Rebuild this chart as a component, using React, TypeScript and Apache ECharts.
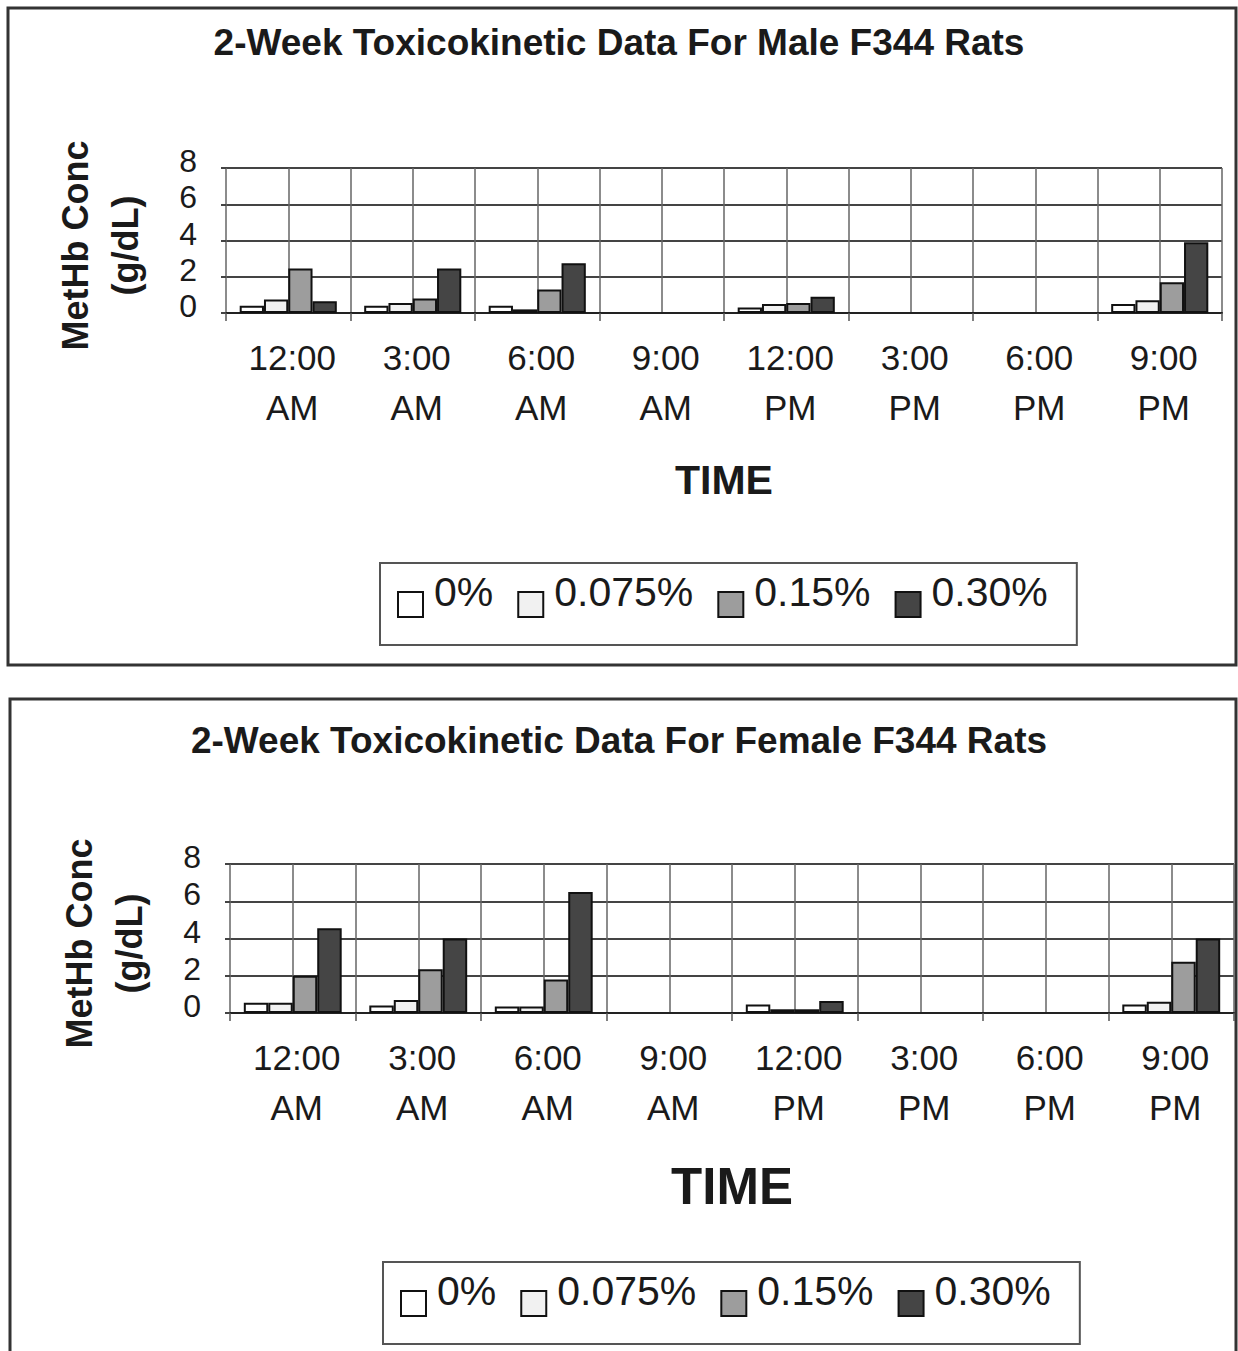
import React, { useEffect, useRef } from "react";
import * as echarts from "echarts";

const categories = ["12:00\nAM", "3:00\nAM", "6:00\nAM", "9:00\nAM", "12:00\nPM", "3:00\nPM", "6:00\nPM", "9:00\nPM"];
const seriesNames = ["0%", "0.075%", "0.15%", "0.30%"];
const yTicks = [0, 2, 4, 6, 8];

const male0 = [0.4, 0.4, 0.4, null, 0.3, null, null, 0.5];
const male075 = [0.75, 0.55, 0.2, null, 0.5, null, null, 0.7];
const male15 = [2.45, 0.8, 1.3, null, 0.55, null, null, 1.7];
const male30 = [0.65, 2.45, 2.75, null, 0.9, null, null, 3.9];

const female0 = [0.55, 0.4, 0.35, null, 0.45, null, null, 0.45];
const female075 = [0.55, 0.7, 0.35, null, 0.2, null, null, 0.6];
const female15 = [2.0, 2.35, 1.8, null, 0.2, null, null, 2.75];
const female30 = [4.55, 4.0, 6.5, null, 0.65, null, null, 4.0];

const titles = ["2-Week Toxicokinetic Data For Male F344 Rats", "2-Week Toxicokinetic Data For Female F344 Rats"];

const FONT = "'Liberation Sans', Arial, Helvetica, sans-serif";
const fills = ["#ffffff", "#f1f1f1", "#9d9d9d", "#454545"];

export default function App() {
  const ref = useRef<HTMLDivElement>(null);
  useEffect(() => {
    document.body.style.margin = "0";
    if (!ref.current) return;
    const chart = echarts.init(ref.current, undefined, { renderer: "svg" });

    const panels = [
      { grid: { left: 226, top: 168, width: 996, height: 145 }, titleTop: 19, timeFont: 41, timeGap: 146, legend: { left: 380, top: 563 }, data: [male0, male075, male15, male30] },
      { grid: { left: 230, top: 864, width: 1004, height: 149 }, titleTop: 717, timeFont: 51, timeGap: 148, legend: { left: 383, top: 1262 }, data: [female0, female075, female15, female30] },
    ];

    const grids: any[] = [];
    const xAxes: any[] = [];
    const yAxes: any[] = [];
    const series: any[] = [];
    const legends: any[] = [];
    const titleArr: any[] = [];

    panels.forEach((p, i) => {
      grids.push({ ...p.grid, containLabel: false });
      titleArr.push({
        text: titles[i],
        left: "center",
        top: p.titleTop,
        textStyle: { fontFamily: FONT, fontWeight: "bold", fontSize: 37, color: "#1a1a1a" },
      });
      xAxes.push({
        type: "category",
        gridIndex: i,
        data: categories,
        position: "bottom",
        boundaryGap: true,
        axisLine: { show: true, lineStyle: { color: "#222", width: 2 } },
        axisTick: { show: true, interval: 0, length: 8, lineStyle: { color: "#555", width: 1.5 } },
        axisLabel: { interval: 0, fontFamily: FONT, fontSize: 35, lineHeight: 50, color: "#1a1a1a", margin: 19, padding: [0, 0, 0, 8] },
        splitLine: { show: false },
        name: "TIME",
        nameLocation: "middle",
        nameGap: p.timeGap,
        nameTextStyle: { fontFamily: FONT, fontWeight: "bold", fontSize: p.timeFont, color: "#1a1a1a" },
      });
      xAxes.push({
        type: "value",
        gridIndex: i,
        position: "top",
        min: 0,
        max: 16,
        interval: 1,
        axisLine: { show: false },
        axisTick: { show: false },
        axisLabel: { show: false },
        splitLine: { show: true, lineStyle: { color: "#666", width: 1.5 } },
      });
      yAxes.push({
        type: "value",
        gridIndex: i,
        min: yTicks[0],
        max: yTicks[yTicks.length - 1],
        interval: 2,
        axisLine: { show: false },
        axisTick: { show: true, length: 5, lineStyle: { color: "#444", width: 2 } },
        axisLabel: { fontFamily: FONT, fontSize: 32, color: "#1a1a1a", margin: 29, verticalAlign: "bottom", lineHeight: 14 },
        splitLine: { show: true, lineStyle: { color: "#444", width: 2 } },
        name: "MetHb Conc\n(g/dL)",
        nameLocation: "middle",
        nameRotate: 90,
        nameGap: 76,
        nameTextStyle: { fontFamily: FONT, fontWeight: "bold", fontSize: 36, lineHeight: 50, color: "#1a1a1a", padding: [0, 10, 0, 0] },
      });
      p.data.forEach((d, k) => {
        series.push({
          type: "bar",
          name: seriesNames[k],
          xAxisIndex: i * 2,
          yAxisIndex: i,
          data: d,
          barGap: "0%",
          barCategoryGap: "22%",
          itemStyle: { color: fills[k], borderColor: "#111", borderWidth: 2 },
        });
      });
      legends.push({
        data: seriesNames,
        left: p.legend.left,
        top: p.legend.top,
        orient: "horizontal",
        icon: "rect",
        itemWidth: 25,
        itemHeight: 25,
        itemGap: 24,
        padding: [8, 29, 27, 17],
        borderColor: "#555",
        borderWidth: 2,
        selectedMode: false,
        itemStyle: { borderColor: "#111", borderWidth: 2 },
        formatter: "{t|{name}}",
        textStyle: {
          fontFamily: FONT,
          fontSize: 41,
          color: "#1a1a1a",
          rich: { t: { fontFamily: FONT, fontSize: 41, color: "#1a1a1a", padding: [0, 0, 26, 6] } },
        },
      });
    });

    chart.setOption({
      animation: false,
      backgroundColor: "#ffffff",
      title: titleArr,
      grid: grids,
      xAxis: xAxes,
      yAxis: yAxes,
      legend: legends,
      series,
      graphic: [
        { type: "rect", shape: { x: 8, y: 8, width: 1228, height: 657 }, style: { fill: "none", stroke: "#333", lineWidth: 3 }, silent: true },
        { type: "rect", shape: { x: 10, y: 699, width: 1226, height: 700 }, style: { fill: "none", stroke: "#333", lineWidth: 3 }, silent: true },
      ],
    });
    return () => chart.dispose();
  }, []);
  return <div ref={ref} style={{ width: 1238, height: 1351 }} />;
}
